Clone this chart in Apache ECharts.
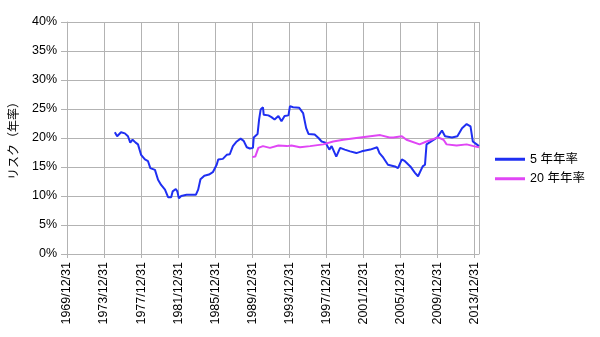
<!DOCTYPE html>
<html>
<head>
<meta charset="utf-8">
<script src="https://cdn.jsdelivr.net/npm/echarts@6/dist/echarts.min.js"></script>
<style>
html, body { margin: 0; padding: 0; background: #fff; }
#main { width: 600px; height: 337px; }
</style>
</head>
<body>
<div id="main"></div>
<script>
// 目盛ラベル（4年ごと）
var xTickLabels = ['1969/12/31', '1973/12/31', '1977/12/31', '1981/12/31', '1985/12/31', '1989/12/31',
	'1993/12/31', '1997/12/31', '2001/12/31', '2005/12/31', '2009/12/31', '2013/12/31'];

// 5年年率
var dates5 = ['1975/02', '1975/05', '1975/10', '1976/03', '1976/07', '1976/10', '1977/01', '1977/05', '1977/08', '1977/12',
	'1978/05', '1978/09', '1978/12', '1979/06', '1979/10', '1980/02', '1980/07', '1980/11', '1981/03', '1981/05',
	'1981/09', '1981/11', '1982/01', '1982/04', '1982/11', '1983/05', '1983/11', '1984/02', '1984/05', '1984/10',
	'1985/04', '1985/09', '1986/02', '1986/04', '1986/10', '1987/03', '1987/07', '1987/11', '1988/04', '1988/09',
	'1989/01', '1989/05', '1989/09', '1990/01', '1990/02', '1990/07', '1990/09', '1990/11', '1991/02', '1991/03',
	'1991/09', '1992/01', '1992/05', '1992/10', '1993/02', '1993/06', '1993/11', '1994/01', '1994/05', '1995/01',
	'1995/06', '1995/10', '1996/01', '1996/09', '1997/02', '1997/06', '1997/11', '1998/04', '1998/07', '1999/01',
	'1999/06', '1999/12', '2000/07', '2001/03', '2001/10', '2002/09', '2003/06', '2003/09', '2004/02', '2004/08',
	'2005/05', '2005/09', '2006/02', '2006/06', '2007/01', '2007/07', '2007/11', '2008/05', '2008/08', '2008/10',
	'2009/05', '2009/12', '2010/06', '2010/10', '2011/07', '2012/02', '2012/08', '2013/02', '2013/07', '2013/10',
	'2014/03', '2014/06'];
var risk5 = [21.0, 20.3, 21.0, 20.8, 20.3, 19.2, 19.7, 19.2, 18.9, 17.1,
	16.3, 16.0, 14.8, 14.5, 12.8, 11.9, 11.1, 9.8, 9.8, 10.8,
	11.2, 10.8, 9.6, 10.0, 10.2, 10.2, 10.2, 11.1, 12.9, 13.5,
	13.7, 14.1, 15.4, 16.3, 16.4, 17.1, 17.2, 18.6, 19.4, 19.9,
	19.5, 18.4, 18.2, 18.3, 20.1, 20.7, 23.2, 24.9, 25.3, 24.0,
	23.9, 23.6, 23.2, 23.8, 22.9, 23.8, 23.9, 25.5, 25.3, 25.2,
	24.3, 21.7, 20.7, 20.6, 20.0, 19.4, 19.2, 18.0, 18.6, 16.8,
	18.3, 18.0, 17.7, 17.4, 17.7, 18.0, 18.4, 17.4, 16.6, 15.4,
	15.1, 14.8, 16.3, 16.0, 15.1, 14.0, 13.4, 15.1, 15.4, 18.9,
	19.5, 20.1, 21.3, 20.3, 20.1, 20.3, 21.7, 22.4, 22.0, 19.4,
	18.9, 18.6];

// 20年年率
var dates20 = ['1989/12', '1990/04', '1990/08', '1991/02', '1991/11', '1992/10', '1993/09', '1994/03', '1995/02', '1996/03',
	'1997/08', '1998/09', '1999/10', '2001/03', '2002/09', '2003/10', '2004/10', '2005/03', '2006/02', '2006/08',
	'2008/01', '2008/10', '2010/01', '2010/08', '2010/12', '2012/01', '2013/02', '2013/11', '2014/06'];
var risk20 = [16.7, 16.8, 18.3, 18.6, 18.3, 18.7, 18.6, 18.7, 18.4, 18.6,
	18.9, 19.4, 19.7, 20.0, 20.3, 20.5, 20.1, 20.1, 20.3, 19.7,
	18.9, 19.4, 20.1, 19.7, 18.9, 18.7, 18.9, 18.6, 18.4];

// 1969/12末 を 0 とした月数
function toMonth(s) {
	var p = s.split('/');
	return (parseInt(p[0], 10) - 1970) * 12 + parseInt(p[1], 10);
}
function pairs(dates, vals) {
	var out = [];
	for (var i = 0; i < dates.length; i++) {
		out.push([toMonth(dates[i]), vals[i]]);
	}
	return out;
}

var font = '"Liberation Sans", Arial, "Noto Sans CJK JP", sans-serif';
var gridColor = '#b3b3b3';

var myChart = echarts.init(document.getElementById('main'));
myChart.setOption({
	backgroundColor: '#fff',
	animation: false,
	textStyle: { fontFamily: font },
	grid: {
		left: 67,
		right: 121,
		top: 22,
		bottom: 83
	},
	legend: {
		orient: 'vertical',
		left: 490,
		top: 148,
		itemWidth: 30,
		itemHeight: 3,
		itemGap: 7,
		icon: 'rect',
		textStyle: { fontSize: 12.5, color: '#000', fontFamily: font },
		data: ['5 年年率', '20 年年率']
	},
	xAxis: {
		type: 'value',
		min: 0,
		max: 534,
		interval: 48,
		axisLine: { lineStyle: { color: gridColor } },
		axisTick: { show: true, length: 4, lineStyle: { color: gridColor } },
		splitLine: { show: true, lineStyle: { color: gridColor, width: 1 } },
		axisLabel: {
			rotate: 90,
			fontSize: 12.5,
			color: '#000',
			margin: 8,
			showMaxLabel: false,
			formatter: function (v) {
				return v % 48 === 0 ? xTickLabels[v / 48] : '';
			}
		}
	},
	yAxis: {
		type: 'value',
		min: 0,
		max: 40,
		interval: 5,
		name: 'リスク（年率）',
		nameLocation: 'middle',
		nameGap: 44,
		nameTextStyle: { fontSize: 12, color: '#000' },
		axisLine: { show: true, lineStyle: { color: gridColor } },
		axisTick: { show: true, length: 6, lineStyle: { color: gridColor } },
		splitLine: { lineStyle: { color: gridColor, width: 1 } },
		axisLabel: {
			fontSize: 12.5,
			color: '#000',
			margin: 10,
			formatter: '{value}%'
		}
	},
	series: [
		{
			name: '5 年年率',
			type: 'line',
			symbol: 'none',
			data: pairs(dates5, risk5),
			itemStyle: { color: '#1f2ff2' },
			lineStyle: { color: '#1f2ff2', width: 2 }
		},
		{
			name: '20 年年率',
			type: 'line',
			symbol: 'none',
			data: pairs(dates20, risk20),
			itemStyle: { color: '#e046f5' },
			lineStyle: { color: '#e046f5', width: 2 }
		}
	]
});
</script>
</body>
</html>
